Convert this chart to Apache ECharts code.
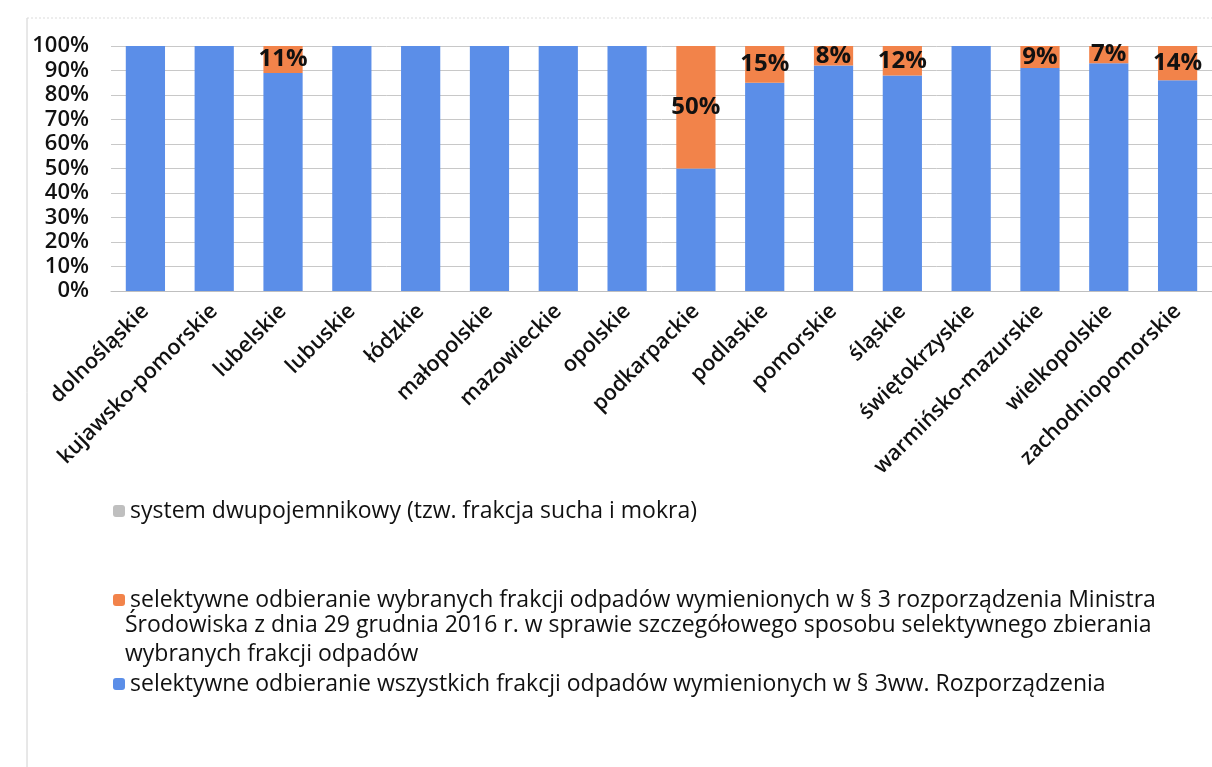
<!DOCTYPE html>
<html><head><meta charset="utf-8">
<script src="https://cdn.jsdelivr.net/npm/echarts@6/dist/echarts.min.js"></script>
<style>html,body{margin:0;padding:0;background:#fff}#c{width:1212px;height:767px}</style>
</head><body><div id="c"></div>
<script>
const categories = ['dolnośląskie','kujawsko-pomorskie','lubelskie','lubuskie','łódzkie','małopolskie','mazowieckie','opolskie','podkarpackie','podlaskie','pomorskie','śląskie','świętokrzyskie','warmińsko-mazurskie','wielkopolskie','zachodniopomorskie'];
const seriesNames = [
  'system dwupojemnikowy (tzw. frakcja sucha i mokra)',
  'selektywne odbieranie wybranych frakcji odpadów wymienionych w § 3 rozporządzenia Ministra',
  'selektywne odbieranie wszystkich frakcji odpadów wymienionych w § 3ww. Rozporządzenia'
];
const orangeContinuation = ['Środowiska z dnia 29 grudnia 2016 r. w sprawie szczegółowego sposobu selektywnego zbierania','wybranych frakcji odpadów'];
const twoBin   = [0,0,0,0,0,0,0,0,0,0,0,0,0,0,0,0];
const selected = [0,0,11,0,0,0,0,0,50,15,8,12,0,9,7,14];
const allFrac  = [100,100,89,100,100,100,100,100,50,85,92,88,100,91,93,86];
const yTicks = [0,100,10];

const font = 'Open Sans';
const chart = echarts.init(document.getElementById('c'));
const legendBase = {orient:'vertical', left:108, itemWidth:12, itemHeight:12, itemGap:0,
  textStyle:{fontSize:23, lineHeight:28, fontFamily:font, color:'#111'}};
chart.setOption({
  animation:false,
  textStyle:{fontFamily:font},
  grid:{left:111, top:46, width:1102, height:245},
  xAxis:{type:'category', data:categories,
    axisLine:{lineStyle:{color:'#bfbfbf'}}, axisTick:{show:false},
    axisLabel:{rotate:45, interval:0, fontSize:21.5, fontWeight:600, fontFamily:font, color:'#111', margin:17}},
  yAxis:{type:'value', min:yTicks[0], max:yTicks[1], interval:yTicks[2],
    axisLabel:{formatter:'{value}%', fontSize:22, fontWeight:600, fontFamily:font, color:'#111', margin:22},
    splitLine:{lineStyle:{color:'#c8c8c8'}}, axisLine:{show:false}, axisTick:{show:false}},
  legend:[
    Object.assign({}, legendBase, {top:492, data:[{name:seriesNames[0], itemStyle:{color:'#bfbfbf'}}]}),
    Object.assign({}, legendBase, {top:581, data:[seriesNames[1]]}),
    Object.assign({}, legendBase, {top:665, data:[seriesNames[2]]})
  ],
  graphic:[
    {type:'line', shape:{x1:27,y1:18,x2:27,y2:767}, style:{stroke:'#d0d0d0', lineWidth:1}},
    {type:'line', shape:{x1:27,y1:18,x2:1212,y2:18}, style:{stroke:'#dcdcdc', lineWidth:1, lineDash:[2,2]}},
    {type:'text', left:125, top:614, style:{text:orangeContinuation[0], fontSize:23, fontFamily:font, fill:'#111'}},
    {type:'text', left:125, top:643, style:{text:orangeContinuation[1], fontSize:23, fontFamily:font, fill:'#111'}}
  ],
  series:[
    {name:seriesNames[0], type:'bar', stack:'s', data:twoBin, barWidth:'57%', itemStyle:{color:'#bfbfbf'}},
    {name:seriesNames[2], type:'bar', stack:'s', data:allFrac, itemStyle:{color:'#5b8ee8'}},
    {name:seriesNames[1], type:'bar', stack:'s', data:selected, itemStyle:{color:'#f2834a'},
      label:{show:true, position:'inside', formatter:p=>p.value>0?p.value+'%':'', fontSize:24, fontWeight:'bold', fontFamily:font, color:'#111'}}
  ]
});
</script></body></html>
